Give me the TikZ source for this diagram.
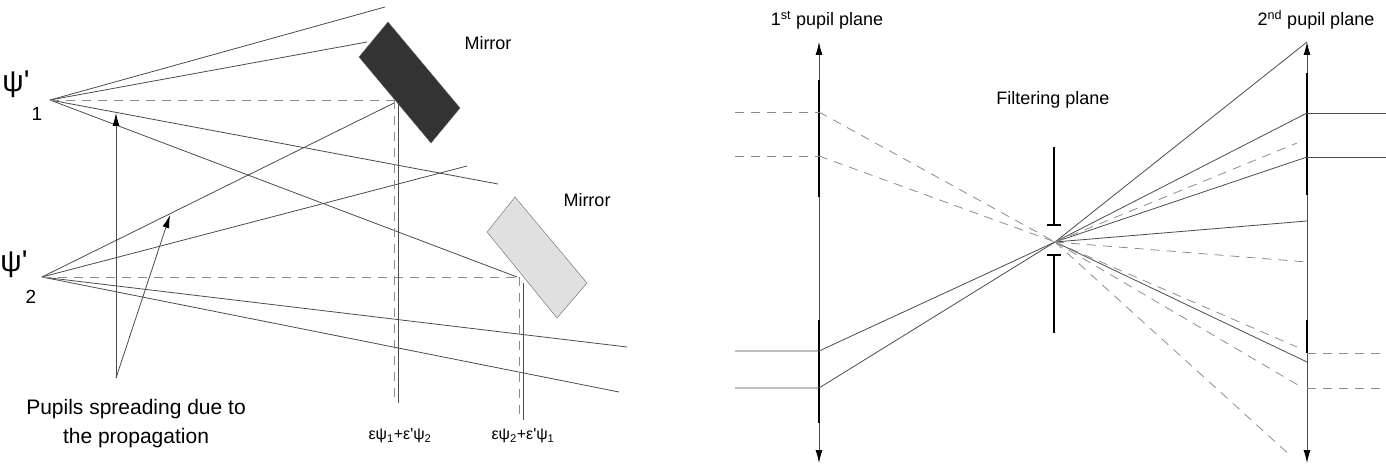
\documentclass[tikz,border=0pt]{standalone}
\usepackage{fontspec}
\setmainfont{Liberation Sans}
\usetikzlibrary{arrows.meta}
\tikzset{
  ray/.style={draw=black!70,line width=0.8pt},
  dray/.style={draw=black!45,line width=0.8pt,dash pattern=on 9pt off 7pt},
  lbl/.style={inner sep=0pt,font=\fontsize{18}{20}\selectfont},
  stopbar/.style={line width=2.4pt},
}
\begin{document}
\begin{tikzpicture}[x=1pt,y=-1pt,>={Latex[length=13pt,width=7pt,black]}]
  \useasboundingbox (0,0) rectangle (1386,468);
  % left panel
  \coordinate (p1) at (50,100);
  \coordinate (p2) at (42,277);
  \node[lbl,font=\fontsize{30}{32}\selectfont] at (16,84) {ψ\textquotesingle{}};
  \node[lbl,font=\fontsize{19}{21}\selectfont] at (37,114) {1};
  \node[lbl,font=\fontsize{30}{32}\selectfont] at (14,264) {ψ\textquotesingle{}};
  \node[lbl,font=\fontsize{19}{21}\selectfont] at (31,297) {2};
  \filldraw[fill=black!80,draw=black!60] (388,22) -- (460,108) -- (431,143) -- (359,57) -- cycle;
  \filldraw[fill=black!12,draw=black!60] (515,197) -- (587,283) -- (557,318) -- (487,232) -- cycle;
  \node[lbl] (m1) at (488,43) {Mirror};
  \node[lbl] (m2) at (587,200) {Mirror};
  \foreach \e in {(385,7),(367,42),(498,184),(517,277)}
    \draw[ray] (p1) -- \e;
  \foreach \e in {(394,103),(467,166),(627,347),(619,392)}
    \draw[ray] (p2) -- \e;
  \draw[dray] (p1) -- (394,100);
  \draw[dray] (p2) -- (519,277);
  \draw[dray] (394,100) -- (394,403);
  \draw[ray] (398,103) -- (398,403);
  \draw[dray] (519,277) -- (519,420);
  \draw[ray] (523,283) -- (523,420);
  \node[lbl,font=\fontsize{16}{18}\selectfont] (s1) at (400,436) {εψ\textsubscript{1}+ε\textquotesingle{}ψ\textsubscript{2}};
  \node[lbl,font=\fontsize{16}{18}\selectfont] (s2) at (523,436) {εψ\textsubscript{2}+ε\textquotesingle{}ψ\textsubscript{1}};
  \coordinate (a0) at (116,378);
  \draw[ray,->] (a0) -- (116,113);
  \draw[ray,->] (a0) -- (170,215);
  \node[lbl,font=\fontsize{21}{23}\selectfont,align=center] (txt) at (136,424) {Pupils spreading due to\\[6pt]the propagation};
  % right panel
  \coordinate (f) at (1055,242);
  \draw[ray,<->] (819,42) -- (819,463);
  \draw[ray,<->] (1307,42) -- (1307,463);
  \draw[line width=1.6pt] (819,80) -- (819,197) (819,320) -- (819,423);
  \draw[line width=1.6pt] (1307,73) -- (1307,195) (1307,320) -- (1307,353);
  \draw[stopbar] (1054,147) -- (1054,225) (1047,225) -- (1061,225);
  \draw[stopbar] (1054,255) -- (1054,333) (1047,255) -- (1061,255);
  \node[lbl] (fp) at (1053,100) {Filtering plane};
  \node[lbl] (pp1) at (827,20) {1\textsuperscript{st} pupil plane};
  \node[lbl] (pp2) at (1316,20) {2\textsuperscript{nd} pupil plane};
  \foreach \y in {351,388} {
    \draw[ray] (735,\y) -- (819,\y) -- (f);
  }
  \foreach \y in {112,156} {
    \draw[dray] (735,\y) -- (819,\y);
    \draw[dray] (819,\y) -- (f);
  }
  \foreach \y in {42,113,157,221,362}
    \draw[ray] (f) -- (1307,\y);
  \foreach \y in {113,157}
    \draw[ray] (1307,\y) -- (1386,\y);
  \foreach \e in {(1297,143),(1307,262),(1297,347),(1303,388),(1292,457)}
    \draw[dray] (f) -- \e;
  \foreach \y in {353,388}
    \draw[dray] (1307,\y) -- (1386,\y);
\end{tikzpicture}
\end{document}
